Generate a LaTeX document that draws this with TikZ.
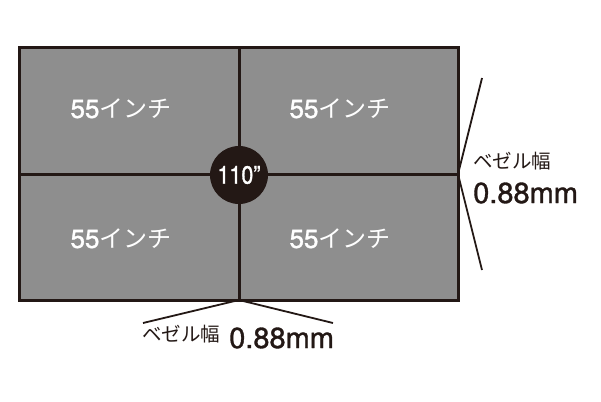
\documentclass[tikz,border=0pt]{standalone}
\usepackage{fontspec}
\setmainfont{Noto Sans CJK JP}
\newfontfamily\jpfont{Noto Sans CJK JP}
\newfontfamily\latf[FakeBold=1.2]{TeX Gyre Heros}
\newfontfamily\latc[FakeBold=1.2,FakeStretch=0.86]{TeX Gyre Heros}
\definecolor{frame}{HTML}{231815}
\definecolor{panel}{HTML}{8E8E8E}
\definecolor{txt}{HTML}{231815}
\newcommand{\paneltxt}{{\latf\fontsize{26}{26}\selectfont 55}{\jpfont\fontsize{24}{24}\selectfont インチ}}
\begin{document}
\begin{tikzpicture}[x=1pt,y=-1pt,
  paneltext/.style={text=white,inner sep=0pt},
  lbl/.style={text=txt,font=\jpfont\fontsize{19.5}{19.5}\selectfont,inner sep=0pt,anchor=west},
  num/.style={text=txt,font=\latf\fontsize{29}{29}\selectfont,inner sep=0pt,anchor=west},
  seam/.style={draw=frame,line width=3pt},
  lead/.style={draw=frame,line width=1.8pt}]
\useasboundingbox (0,0) rectangle (601,401);
\fill[panel] (19,48) rectangle (458,300);
\draw[seam] (239,48) -- (239,300);
\draw[seam] (19,174) -- (458,174);
\draw[seam] (19,48) rectangle (458,300);
\node[paneltext] (q1) at (121,109) {\paneltxt};
\node[paneltext] (q2) at (340,109) {\paneltxt};
\node[paneltext] (q3) at (121,239) {\paneltxt};
\node[paneltext] (q4) at (340,239) {\paneltxt};
\node[circle,fill=frame,minimum size=58pt,inner sep=0pt,text=white,
  font=\latc\fontsize{25}{25}\selectfont] (c) at (239,175) {110”};
\coordinate (rv) at (458,174);
\coordinate (rt) at (482,78);
\coordinate (rb) at (482,270);
\draw[lead] (rt) -- (rv) -- (rb);
\coordinate (bv) at (239,300);
\coordinate (bl) at (143,323);
\coordinate (br) at (333,323);
\draw[lead] (bl) -- (bv) -- (br);
\node[lbl] (rl) at (473,161) {ベゼル幅};
\node[num] (rn) at (473,193) {0.88mm};
\node[lbl] (bll) at (142,334) {ベゼル幅};
\node[num] (bn) at (229,338) {0.88mm};
\end{tikzpicture}
\end{document}
